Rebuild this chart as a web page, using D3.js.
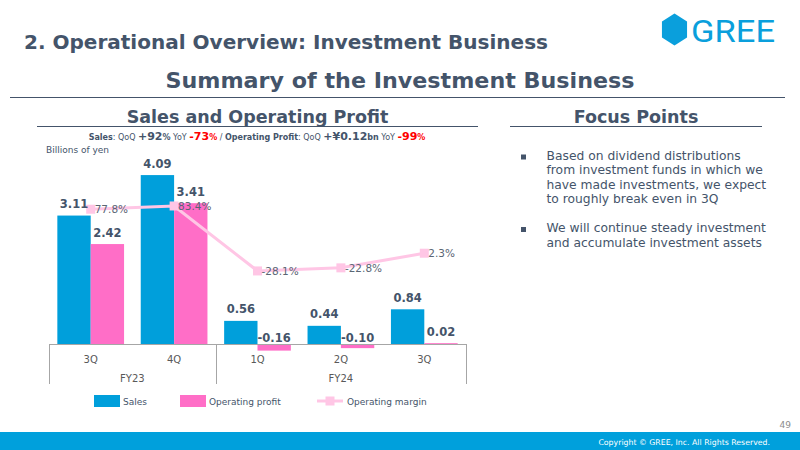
<!DOCTYPE html>
<html>
<head>
<meta charset="utf-8">
<script src="https://cdn.jsdelivr.net/npm/d3@7/dist/d3.min.js"></script>
<style>
  html, body { margin: 0; padding: 0; background: #fff; }
  svg { display: block; font-family: "DejaVu Sans", Verdana, sans-serif; }
</style>
</head>
<body>
<svg id="chart" width="800" height="450"></svg>
<script>
// chart data
const quarters = ["3Q", "4Q", "1Q", "2Q", "3Q"];
const fiscalYears = ["FY23", "FY24"];
const quartersPerYear = [2, 3];
const sales = [3.11, 4.09, 0.56, 0.44, 0.84];
const operatingProfit = [2.42, 3.41, -0.16, -0.10, 0.02];
const operatingMargin = [77.8, 83.4, -28.1, -22.8, 2.3];
const focusPoints = [
  ["Based on dividend distributions", "from investment funds in which we",
   "have made investments, we expect", "to roughly break even in 3Q"],
  ["We will continue steady investment", "and accumulate investment assets"]
];

const ink = "#44546a";
const salesColor = "#009fdb";
const profitColor = "#ff6ec7";
const marginColor = "#ffc6e5";

const svg = d3.select("#chart");

// page header
svg.append("text").attr("x", 24).attr("y", 49)
  .attr("font-size", 20).attr("font-weight", "bold").attr("fill", ink)
  .attr("textLength", 524).attr("lengthAdjust", "spacingAndGlyphs")
  .text("2. Operational Overview: Investment Business");

// logo
const hex = d3.range(6).map(i => {
  const a = Math.PI / 3 * i - Math.PI / 2;
  return [674.5 + 14.5 * Math.cos(a), 29.5 + 16 * Math.sin(a)];
});
svg.append("path").attr("d", d3.line()(hex) + "Z").attr("fill", "#0a9fdc");
svg.append("text").attr("x", 691).attr("y", 42)
  .attr("font-family", "Roboto, sans-serif").attr("font-size", 32).attr("fill", "#0a9fdc")
  .attr("textLength", 84).attr("lengthAdjust", "spacingAndGlyphs")
  .text("GREE");

svg.append("text").attr("x", 400).attr("y", 88).attr("text-anchor", "middle")
  .attr("font-size", 22).attr("font-weight", "bold").attr("fill", ink)
  .attr("textLength", 469).attr("lengthAdjust", "spacingAndGlyphs")
  .text("Summary of the Investment Business");
svg.append("line").attr("x1", 10).attr("x2", 785).attr("y1", 97.5).attr("y2", 97.5)
  .attr("stroke", ink).attr("stroke-width", 1);

// section headings
svg.append("text").attr("x", 257.5).attr("y", 123).attr("text-anchor", "middle")
  .attr("font-size", 17.5).attr("font-weight", "bold").attr("fill", ink)
  .text("Sales and Operating Profit");
svg.append("line").attr("x1", 37).attr("x2", 478).attr("y1", 126.5).attr("y2", 126.5)
  .attr("stroke", ink);
svg.append("text").attr("x", 636).attr("y", 123).attr("text-anchor", "middle")
  .attr("font-size", 17.5).attr("font-weight", "bold").attr("fill", ink)
  .text("Focus Points");
svg.append("line").attr("x1", 510).attr("x2", 762).attr("y1", 126.5).attr("y2", 126.5)
  .attr("stroke", ink);

// growth summary line
const summaryParts = [
  ["Sales", 8, true, ink], [": QoQ ", 8, false, ink], ["+92", 11, true, ink], ["%", 8, true, ink],
  [" YoY ", 8, false, ink], ["-73", 11, true, "#ff0000"], ["%", 8, true, "#ff0000"],
  [" / ", 8, false, ink], ["Operating Profit", 8, true, ink], [": QoQ ", 8, false, ink],
  ["+\u00a50.12", 11, true, ink], ["bn", 8, true, ink], [" YoY ", 8, false, ink],
  ["-99", 11, true, "#ff0000"], ["%", 8, true, "#ff0000"]
];
svg.append("text").attr("x", 257).attr("y", 140).attr("text-anchor", "middle")
  .attr("xml:space", "preserve")
  .selectAll("tspan").data(summaryParts).join("tspan")
  .attr("font-size", d => d[1]).attr("font-weight", d => d[2] ? "bold" : "normal")
  .attr("fill", d => d[3]).text(d => d[0]);

svg.append("text").attr("x", 46).attr("y", 152.5)
  .attr("font-size", 9).attr("fill", ink).text("Billions of yen");

// scales
const x0 = d3.scaleBand().domain(d3.range(quarters.length)).range([49, 466])
  .paddingInner(0.2).paddingOuter(0.1);
const x1 = d3.scaleBand().domain(["sales", "profit"]).range([0, x0.bandwidth()]);
const y = d3.scaleLinear().domain([0, 4.5]).range([344, 158.15]);
const y2 = d3.scaleLinear().domain([-50, 100]).range([283.7, 196.3]);

const rows = quarters.map((q, i) => ({
  i, q, sales: sales[i], profit: operatingProfit[i], margin: operatingMargin[i]
}));

const g = svg.append("g");

// bars
g.selectAll("rect.sales").data(rows).join("rect").attr("class", "sales")
  .attr("x", d => x0(d.i) + x1("sales"))
  .attr("width", x1.bandwidth())
  .attr("y", d => y(Math.max(0, d.sales)))
  .attr("height", d => Math.abs(y(d.sales) - y(0)))
  .attr("fill", salesColor);
g.selectAll("rect.profit").data(rows).join("rect").attr("class", "profit")
  .attr("x", d => x0(d.i) + x1("profit"))
  .attr("width", x1.bandwidth())
  .attr("y", d => y(Math.max(0, d.profit)))
  .attr("height", d => Math.max(1.5, Math.abs(y(d.profit) - y(0))))
  .attr("fill", profitColor);

// category axis
const step = x0.step();
const x0Start = x0.range()[0];
g.append("line").attr("x1", x0Start).attr("x2", x0.range()[1])
  .attr("y1", y(0) + 0.5).attr("y2", y(0) + 0.5).attr("stroke", "#a6a6a6");
const boundaries = [0];
quartersPerYear.reduce((acc, n) => { boundaries.push(acc + n); return acc + n; }, 0);
g.selectAll("line.sep").data(boundaries).join("line").attr("class", "sep")
  .attr("x1", d => Math.round(x0Start + d * step) + 0.5)
  .attr("x2", d => Math.round(x0Start + d * step) + 0.5)
  .attr("y1", y(0)).attr("y2", y(0) + 40)
  .attr("stroke", "#a6a6a6");
g.selectAll("text.q").data(rows).join("text").attr("class", "q")
  .attr("x", d => x0(d.i) + x0.bandwidth() / 2).attr("y", y(0) + 19)
  .attr("text-anchor", "middle").attr("font-size", 10).attr("fill", "#595959")
  .text(d => d.q);
g.selectAll("text.fy").data(fiscalYears).join("text").attr("class", "fy")
  .attr("x", (d, i) => x0Start + (boundaries[i] + boundaries[i + 1]) / 2 * step)
  .attr("y", y(0) + 38)
  .attr("text-anchor", "middle").attr("font-size", 10).attr("fill", "#595959")
  .text(d => d);

// operating margin line
const cx = d => x0(d.i) + x1("profit");
g.append("path").datum(rows)
  .attr("d", d3.line().x(cx).y(d => y2(d.margin)))
  .attr("fill", "none").attr("stroke", marginColor).attr("stroke-width", 3);
g.selectAll("rect.mk").data(rows).join("rect").attr("class", "mk")
  .attr("x", d => cx(d) - 4.5).attr("y", d => y2(d.margin) - 4.5)
  .attr("width", 9).attr("height", 9).attr("fill", marginColor);
g.selectAll("text.mg").data(rows).join("text").attr("class", "mg")
  .attr("x", d => cx(d) + 4).attr("y", d => y2(d.margin) + 4)
  .attr("font-size", 10.5).attr("fill", "#5a6674")
  .text(d => d.margin.toFixed(1) + "%");

// value labels
g.selectAll("text.sv").data(rows).join("text").attr("class", "sv")
  .attr("x", d => x0(d.i) + x1("sales") + x1.bandwidth() / 2)
  .attr("y", d => y(d.sales) - 7.5)
  .attr("text-anchor", "middle").attr("font-size", 11.5).attr("font-weight", "bold").attr("fill", ink)
  .text(d => d.sales.toFixed(2));
g.selectAll("text.pv").data(rows).join("text").attr("class", "pv")
  .attr("x", d => x0(d.i) + x1("profit") + x1.bandwidth() / 2)
  .attr("y", d => (d.profit >= 0 ? y(d.profit) - 7 : y(0) - 2))
  .attr("text-anchor", "middle").attr("font-size", 11.5).attr("font-weight", "bold").attr("fill", ink)
  .text(d => d.profit.toFixed(2));

// legend
const legend = svg.append("g");
legend.append("rect").attr("x", 94).attr("y", 395).attr("width", 26).attr("height", 12).attr("fill", salesColor);
legend.append("text").attr("x", 123).attr("y", 405).attr("font-size", 9).attr("fill", ink).text("Sales");
legend.append("rect").attr("x", 180).attr("y", 395).attr("width", 26).attr("height", 12).attr("fill", profitColor);
legend.append("text").attr("x", 209).attr("y", 405).attr("font-size", 9).attr("fill", ink).text("Operating profit");
legend.append("line").attr("x1", 317).attr("x2", 343).attr("y1", 401).attr("y2", 401)
  .attr("stroke", marginColor).attr("stroke-width", 3);
legend.append("rect").attr("x", 325.5).attr("y", 396.5).attr("width", 9).attr("height", 9).attr("fill", marginColor);
legend.append("text").attr("x", 347).attr("y", 405).attr("font-size", 9).attr("fill", ink).text("Operating margin");

// focus points
let lineY = 159.5;
focusPoints.forEach(block => {
  svg.append("rect").attr("x", 521).attr("y", lineY - 5).attr("width", 5).attr("height", 5).attr("fill", ink);
  block.forEach(t => {
    svg.append("text").attr("x", 546.5).attr("y", lineY)
      .attr("font-size", 12.3).attr("fill", ink).text(t);
    lineY += 14.5;
  });
  lineY += 14.5;
});

// footer
svg.append("text").attr("x", 791).attr("y", 428).attr("text-anchor", "end")
  .attr("font-size", 9).attr("fill", "#8c8c8c").text("49");
svg.append("rect").attr("x", 0).attr("y", 432).attr("width", 800).attr("height", 18).attr("fill", "#00a0dc");
svg.append("text").attr("x", 770).attr("y", 445).attr("text-anchor", "end")
  .attr("font-size", 7.8).attr("fill", "#fff").text("Copyright \u00a9 GREE, Inc. All Rights Reserved.");
</script>
</body>
</html>
